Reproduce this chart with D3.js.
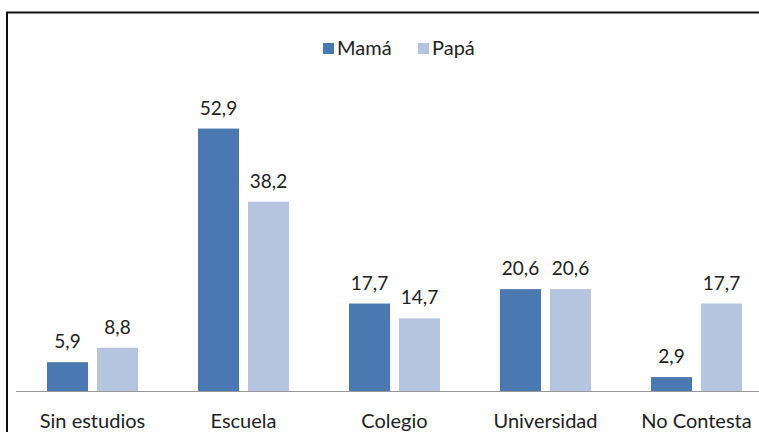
<!DOCTYPE html>
<html><head><meta charset="utf-8">
<script src="https://cdn.jsdelivr.net/npm/d3@7"></script>
<style>body{margin:0;background:#fff}svg{display:block}</style>
</head><body>
<svg id="c" width="759" height="432"></svg>
<script>
const categories = ["Sin estudios","Escuela","Colegio","Universidad","No Contesta"];
const seriesNames = ["Mamá","Papá"];
const mama = [5.9, 52.9, 17.7, 20.6, 2.9];
const papa = [8.8, 38.2, 14.7, 20.6, 17.7];
const colors = ["#4a78b1","#b5c4df"];
const font = "Lato, 'Noto Sans', sans-serif";

const svg = d3.select("#c");
// frame
svg.append("rect").attr("x",7).attr("y",12.5).attr("width",800).attr("height",500)
  .attr("fill","#fff").attr("stroke","#111").attr("stroke-width",2);

const x0 = d3.scaleBand().domain(categories).range([17,772]).paddingInner(0).paddingOuter(0);
const x1 = d3.scaleBand().domain(seriesNames).range([0,91]).paddingInner(9/50);
const y = d3.scaleLinear().domain([0,60]).range([391.5,93.3]);

const data = categories.map((c,i)=>({cat:c, vals:[mama[i],papa[i]]}));
const g = svg.append("g");
const grp = g.selectAll("g.cat").data(data).enter().append("g")
  .attr("transform",d=>`translate(${x0(d.cat)+(x0.bandwidth()-91)/2},0)`);
grp.selectAll("rect").data(d=>d.vals.map((v,j)=>({v, s:seriesNames[j], j})))
  .enter().append("rect")
  .attr("x",d=>x1(d.s)).attr("width",x1.bandwidth())
  .attr("y",d=>y(d.v)).attr("height",d=>y(0)-y(d.v))
  .attr("fill",d=>colors[d.j]);
grp.selectAll("text").data(d=>d.vals.map((v,j)=>({v, s:seriesNames[j], j})))
  .enter().append("text")
  .attr("x",d=>x1(d.s)+x1.bandwidth()/2).attr("y",d=>y(d.v)-14)
  .attr("text-anchor","middle").attr("font-family",font).attr("font-size",19)
  .attr("fill","#222").text(d=>d3.format(".1f")(d.v).replace(".",","));

// axis
const ax = svg.append("g").attr("transform",`translate(0,${y(0)})`)
  .call(d3.axisBottom(x0).tickSize(0).tickPadding(0));
ax.select(".domain").attr("stroke","#999").attr("stroke-width",1.2).attr("d","M16,0H772");
ax.selectAll("text").attr("font-family",font).attr("font-size",20).attr("fill","#222")
  .attr("dy",0).attr("y",36.5);

// legend
const leg = svg.append("g");
const lx = [323, 418];
seriesNames.forEach((s,j)=>{
  leg.append("rect").attr("x",lx[j]).attr("y",43).attr("width",11).attr("height",11).attr("fill",colors[j]);
  leg.append("text").attr("x",lx[j]+14).attr("y",55).attr("font-family",font).attr("font-size",20)
    .attr("fill","#222").text(s);
});
</script>
</body></html>
